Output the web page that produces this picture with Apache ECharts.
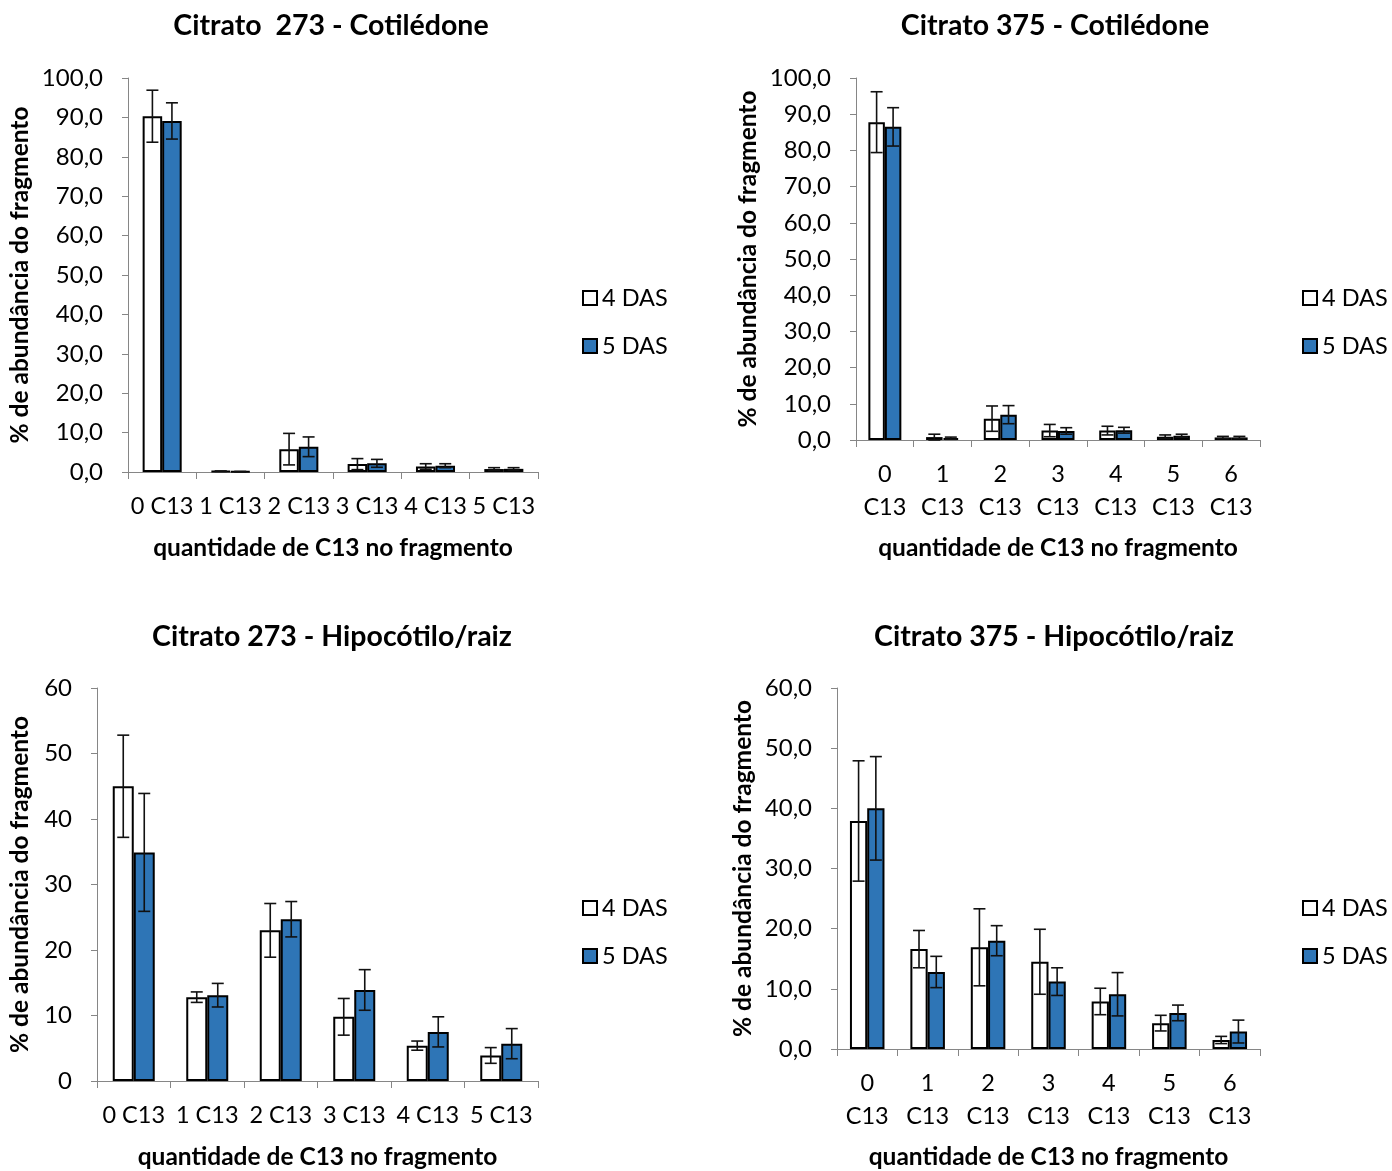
<!DOCTYPE html>
<html><head><meta charset="utf-8">
<script src="https://cdn.jsdelivr.net/npm/echarts@6/dist/echarts.min.js"></script>
<style>html,body{margin:0;padding:0;background:#fff}#c{width:1392px;height:1171px}</style>
</head><body><div id="c"></div>
<script>
// ---- data ----
const cats6 = ['0 C13','1 C13','2 C13','3 C13','4 C13','5 C13'];
const cats7 = ['0\nC13','1\nC13','2\nC13','3\nC13','4\nC13','5\nC13','6\nC13'];
const seriesNames = ['4 DAS','5 DAS'];
const titles = ['Citrato  273 - Cotilédone','Citrato 375 - Cotilédone','Citrato 273 - Hipocótilo/raiz','Citrato 375 - Hipocótilo/raiz'];
const yName = '% de abundância do fragmento';
const xName = 'quantidade de C13 no fragmento';

const cot273_4 = [90.3, 0.2, 5.8, 2.0, 1.4, 0.75];
const cot273_4err = [6.6, 0.05, 4.0, 1.4, 0.7, 0.35];
const cot273_5 = [89.1, 0.1, 6.4, 2.2, 1.6, 0.8];
const cot273_5err = [4.6, 0.05, 2.5, 1.0, 0.5, 0.3];

const cot375_4 = [87.8, 0.8, 5.9, 2.6, 2.6, 0.9, 0.7];
const cot375_4err = [8.4, 0.8, 3.5, 1.7, 1.2, 0.5, 0.3];
const cot375_5 = [86.5, 0.5, 7.0, 2.5, 2.7, 1.2, 0.7];
const cot375_5err = [5.3, 0.3, 2.5, 0.9, 0.8, 0.4, 0.3];

const hip273_4 = [45.0, 12.8, 23.0, 9.8, 5.4, 3.9];
const hip273_4err = [7.8, 0.8, 4.1, 2.8, 0.7, 1.2];
const hip273_5 = [34.9, 13.1, 24.7, 13.9, 7.5, 5.7];
const hip273_5err = [9.0, 1.8, 2.7, 3.1, 2.3, 2.3];

const hip375_4 = [37.9, 16.6, 16.9, 14.5, 7.9, 4.3, 1.5];
const hip375_4err = [10.0, 3.1, 6.4, 5.4, 2.2, 1.3, 0.6];
const hip375_5 = [40.0, 12.8, 18.0, 11.2, 9.1, 6.0, 2.9];
const hip375_5err = [8.6, 2.6, 2.5, 2.3, 3.6, 1.3, 1.9];

// ---- layout ----
const FONT = 'Lato';
const BAR_FRAC = 2/7;
const fmt1 = v => v.toFixed(1).replace('.', ',');
const fmt0 = v => String(v);

const panels = [
  {cats: cats6, a: cot273_4, ae: cot273_4err, b: cot273_5, be: cot273_5err, max: 100, fmt: fmt1,
   grid: {left: 128, top: 78, width: 410, height: 394}, yGap: 95, xGap: 64, lblMargin: 18,
   title: {x: 331, y: 11}, legend: {left: 582, top: 286}},
  {cats: cats7, a: cot375_4, ae: cot375_4err, b: cot375_5, be: cot375_5err, max: 100, fmt: fmt1,
   grid: {left: 856, top: 78, width: 404, height: 362}, yGap: 95, xGap: 96, lblMargin: 18,
   title: {x: 1055, y: 11}, legend: {left: 1302, top: 286}},
  {cats: cats6, a: hip273_4, ae: hip273_4err, b: hip273_5, be: hip273_5err, max: 60, fmt: fmt0,
   grid: {left: 97, top: 688, width: 441, height: 394}, yGap: 64, xGap: 64, lblMargin: 18,
   title: {x: 332, y: 622}, legend: {left: 582, top: 896}},
  {cats: cats7, a: hip375_4, ae: hip375_4err, b: hip375_5, be: hip375_5err, max: 60, fmt: fmt1,
   grid: {left: 837, top: 688, width: 423, height: 362}, yGap: 81, xGap: 96, lblMargin: 18,
   title: {x: 1054, y: 622}, legend: {left: 1302, top: 896}}
];

function errRender(sign) {
  return function (params, api) {
    const x = api.value(0), v = api.value(1), e = api.value(2);
    const top = api.coord([x, v + e]);
    const bot = api.coord([x, v - e]);
    const cw = api.size([1, 0])[0];
    const bw = cw * BAR_FRAC;
    const cx = top[0] + sign * bw / 2;
    const h = 6;
    const st = {stroke: '#111', lineWidth: 1.6};
    return {type: 'group', children: [
      {type: 'line', shape: {x1: cx, y1: top[1], x2: cx, y2: bot[1]}, style: st},
      {type: 'line', shape: {x1: cx - h, y1: top[1], x2: cx + h, y2: top[1]}, style: st},
      {type: 'line', shape: {x1: cx - h, y1: bot[1], x2: cx + h, y2: bot[1]}, style: st}
    ]};
  };
}

const option = {
  animation: false,
  backgroundColor: '#fff',
  textStyle: {fontFamily: FONT, color: '#000'},
  title: [], legend: [], grid: [], xAxis: [], yAxis: [], series: []
};

const axisGray = '#868686';
panels.forEach((p, i) => {
  option.title.push({text: titles[i], left: p.title.x, top: p.title.y, textAlign: 'center', padding: 0,
    textStyle: {fontFamily: FONT, fontWeight: 'bold', fontSize: 28.5, color: '#000'}});
  option.legend.push({data: seriesNames, left: p.legend.left, top: p.legend.top, orient: 'vertical',
    padding: 0, icon: 'rect', itemWidth: 14, itemHeight: 14, itemGap: 24,
    textStyle: {fontFamily: FONT, fontSize: 23.5, color: '#000'}});
  option.grid.push(Object.assign({containLabel: false}, p.grid));
  option.xAxis.push({type: 'category', gridIndex: i, data: p.cats, boundaryGap: true,
    name: xName, nameLocation: 'middle', nameGap: p.xGap,
    nameTextStyle: {fontFamily: FONT, fontWeight: 'bold', fontSize: 24.5, color: '#000'},
    axisLine: {lineStyle: {color: axisGray, width: 1}},
    axisTick: {show: true, alignWithLabel: false, length: 7, lineStyle: {color: axisGray}},
    axisLabel: {interval: 0, fontFamily: FONT, fontSize: 23.5, color: '#000', margin: p.lblMargin, lineHeight: 33},
    splitLine: {show: false}});
  option.yAxis.push({type: 'value', gridIndex: i, min: 0, max: p.max, interval: 10,
    name: yName, nameLocation: 'middle', nameGap: p.yGap,
    nameTextStyle: {fontFamily: FONT, fontWeight: 'bold', fontSize: 24.5, color: '#000'},
    axisLine: {show: true, lineStyle: {color: axisGray, width: 1}},
    axisTick: {show: true, length: 6, lineStyle: {color: axisGray}},
    axisLabel: {fontFamily: FONT, fontSize: 24, color: '#000', margin: 25, formatter: p.fmt},
    splitLine: {show: false}});
  option.series.push(
    {name: seriesNames[0], type: 'bar', xAxisIndex: i, yAxisIndex: i, data: p.a,
     barGap: '0%', barCategoryGap: '42.86%',
     itemStyle: {color: '#ffffff', borderColor: '#000', borderWidth: 2}},
    {name: seriesNames[1], type: 'bar', xAxisIndex: i, yAxisIndex: i, data: p.b,
     barGap: '0%', barCategoryGap: '42.86%',
     itemStyle: {color: '#2e75b6', borderColor: '#000', borderWidth: 2}},
    {name: 'err4_' + i, type: 'custom', xAxisIndex: i, yAxisIndex: i, z: 5,
     renderItem: errRender(-1), data: p.a.map((v, k) => [k, v, p.ae[k]])},
    {name: 'err5_' + i, type: 'custom', xAxisIndex: i, yAxisIndex: i, z: 5,
     renderItem: errRender(1), data: p.b.map((v, k) => [k, v, p.be[k]])}
  );
});

const chart = echarts.init(document.getElementById('c'), null, {renderer: 'canvas'});
chart.setOption(option);
</script></body></html>
